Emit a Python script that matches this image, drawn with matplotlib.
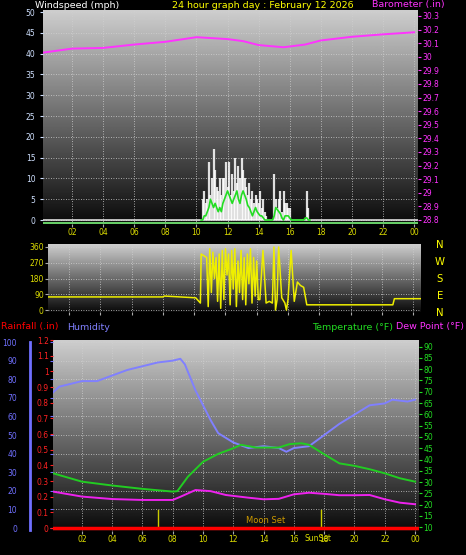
import numpy as np
import matplotlib
matplotlib.use("Agg")
import matplotlib.pyplot as plt

W, H = 466, 555
# ---------------- data ----------------
wind_hours = [round(10.3 + 0.1 * i, 1) for i in range(71)]
gust = [0, 5, 7, 4, 5, 14, 6, 10, 17, 12, 8, 7, 10, 6, 10, 10, 14, 8, 14, 6, 11,
        7, 15, 9, 13, 10, 15, 12, 10, 8, 6, 9, 5, 7, 4, 6, 5, 4, 7, 3, 5, 2, 1, 0, 0,
        0, 0, 11, 5, 3, 5, 7, 2, 7, 4, 4, 3, 3, 0, 0, 0, 0, 0, 0, 0, 0, 0, 0, 7, 3, 0]
avg = [0, 0, 1, 1, 2, 3, 5, 4, 3, 4, 3, 2, 3, 2, 4, 5, 6, 7, 6, 5, 4,
       5, 6, 7, 5, 4, 6, 7, 6, 5, 3.5, 3, 2, 1, 2, 3, 2, 1.5, 1, 1, 0.5, 0, 0, 0, 0,
       0, 0, 1, 3, 2.5, 2, 1.5, 0.5, 0, 1, 1, 1, 0.5, 0, 0, 0, 0, 0, 0, 0, 0, 0, 0.5, 0.5, 0, 0]
baro_hours = [0.1, 2, 4, 6, 8, 10, 12, 13, 14, 15.6, 17, 18, 20, 22, 24]
baro = [30.03, 30.06, 30.065, 30.09, 30.11, 30.144, 30.13, 30.115, 30.086, 30.07, 30.09,
        30.12, 30.147, 30.165, 30.18]

dir_hours = [0.7, 8.0, 8.1, 10.1, 10.4, 10.45, 10.8, 10.9, 11.0, 11.1, 11.2, 11.3, 11.4, 11.5,
             11.6, 11.7, 11.8, 11.9, 12.0, 12.1, 12.2, 12.3, 12.4, 12.5, 12.6, 12.7, 12.8,
             12.9, 13.0, 13.1, 13.2, 13.3, 13.4, 13.5, 13.6, 13.7, 13.8, 13.9, 14.0, 14.1,
             14.2, 14.4, 14.6, 14.8, 15.0, 15.1, 15.2, 15.3, 15.4, 15.6, 15.8, 15.9, 16.0,
             16.2, 16.4, 16.6, 16.8, 17.0, 17.2, 17.4, 22.7, 22.8, 24.5]
direction = [75, 75, 80, 70, 40, 320, 300, 20, 350, 100, 330, 180, 300, 50, 320, 10, 340,
             60, 350, 200, 320, 30, 340, 120, 350, 20, 280, 100, 340, 60, 300, 30, 320, 150,
             350, 40, 300, 80, 280, 60, 60, 340, 40, 50, 40, 360, 0, 60, 360, 70, 40, 0, 60,
             340, 50, 160, 140, 130, 30, 30, 30, 65, 65]

hum_hours = [0.1, 0.5, 2, 3, 4, 5, 6, 7, 8, 8.5, 8.8, 9.5, 10, 10.5, 11, 12, 13, 14, 15, 15.5,
             16, 17, 18, 19, 20, 21, 22, 22.5, 23.5, 24]
humidity = [73, 76, 79, 79, 82, 85, 87, 89, 90, 91, 88, 74, 66, 58, 51, 46, 43, 44, 43, 41,
            43, 44, 50, 56, 61, 66, 67, 69, 68, 69]
temp_hours = [0.1, 2, 4, 6, 8, 8.3, 9, 10, 11, 12, 12.5, 13.5, 15, 15.7, 16.5, 17, 18, 19, 20,
              21, 22, 23, 24]
temperature = [33.9, 30.2, 28.5, 27, 25.8, 26, 32.4, 39, 42.5, 45, 46.5, 45.3, 45.3, 46.8,
               47.2, 46.5, 42.3, 38.3, 37.2, 35.7, 33.9, 31.7, 30.2]
dew_hours = [0.1, 2, 4, 6, 8, 8.5, 9.5, 10.5, 11.5, 13, 14, 15, 16, 17, 18, 19, 20, 21, 22, 23, 24]
dewpoint = [25.8, 23.6, 22.5, 22.1, 22.1, 23.5, 26.5, 26, 24.3, 23.1, 22.4, 22.6, 24.6, 25.3,
            24.8, 24.2, 24.2, 24.3, 22.4, 20.9, 20.2]
rain_hours = [0.1, 24.2]
rain = [0, 0]

fig = plt.figure(figsize=(W / 100, H / 100), dpi=100, facecolor="black")


def add(l, t, r, b):
    return fig.add_axes([l / W, 1 - b / H, (r - l) / W, (b - t) / H])


grad = np.linspace(0, 1, 256).reshape(-1, 1)


def background(ax):
    ax.imshow(grad, cmap="gray", vmin=-0.05, vmax=1.25, aspect="auto",
              extent=[0, 1, 0, 1], transform=ax.transAxes, origin="lower", zorder=0)
    ax.grid(True, color="#d0d0d0", linestyle=(0, (1, 2)), linewidth=0.6, zorder=1)
    for s in ax.spines.values():
        s.set_visible(False)
    ax.tick_params(length=2, color="#aaaaaa", labelsize=5.5)


fs = 6.8
xt = list(range(2, 25, 2))
xl = ["%02d" % (h % 24) for h in xt]

# ---------- panel 1 ----------
ax1 = add(43, 10, 418, 224)
background(ax1)
ax1.set_xlim(0.13, 24.25)
ax1.set_ylim(-0.96, 50.5)
ax1.vlines(wind_hours, 0, gust, color="white", linewidth=1.6, alpha=0.85, zorder=3)
ax1.plot(wind_hours, avg, color="#22dd22", linewidth=1.2, zorder=4)
ax1.axhline(0, color="#dddddd", linewidth=1.2, zorder=2)
ax1.axhline(-0.7, color="#66cc66", linewidth=1.5, zorder=2)
ax1.set_yticks(range(0, 51, 5))
ax1.tick_params(axis="y", colors="#cfe0ff", labelcolor="#cfe0ff")
ax1.set_xticks(xt)
ax1.set_xticklabels(xl)
ax1.tick_params(axis="x", labelcolor="#dddd00", pad=1)
b1 = ax1.twinx()
b1.set_ylim(28.77, 30.344)
b1.plot(baro_hours, baro, color="#ff33ff", linewidth=1.4, zorder=5)
b1.set_yticks(np.round(np.arange(28.8, 30.31, 0.1), 1))
b1.set_yticklabels(["%g" % v for v in np.round(np.arange(28.8, 30.31, 0.1), 1)])
b1.tick_params(axis="y", colors="#ff33ff", labelsize=5.5, length=2, pad=1)
for s in b1.spines.values():
    s.set_visible(False)

fig.text(35 / W, 1 - 5 / H, "Windspeed (mph)", color="white", fontsize=fs, va="center")
fig.text(172 / W, 1 - 5 / H, "24 hour graph day : February 12 2026", color="#ffff00", fontsize=fs, va="center")
fig.text(372 / W, 1 - 5 / H, "Barometer (.in)", color="#ff33ff", fontsize=fs, va="center")

# ---------- panel 2 ----------
ax2 = add(48, 244, 421, 312)
background(ax2)
ax2.set_xlim(0.66, 24.5)
ax2.set_ylim(-11, 377)
ax2.plot(dir_hours, direction, color="#eeee00", linewidth=1.1, zorder=3)
ax2.set_yticks([0, 90, 180, 270, 360])
ax2.tick_params(axis="y", labelcolor="#dddd00", labelsize=5.5, pad=1)
ax2.set_xticks(xt)
ax2.set_xticklabels([])
for i, lab in enumerate(["N", "W", "S", "E", "N"]):
    fig.text(440 / W, 1 - (245 + i * 17) / H, lab, color="#ffff00", fontsize=fs + 0.5, ha="center", va="center")

# ---------- panel 3 ----------
ax3 = add(53, 340, 419, 531)
background(ax3)
ax3.set_xlim(0.09, 24.26)
ax3.set_ylim(-1.6, 101.1)
ax3.plot(hum_hours, humidity, color="#8080ff", linewidth=1.4, zorder=3)
ax3.set_yticks(range(0, 101, 10))
ax3.tick_params(axis="y", labelcolor="#7070ff", colors="#7070ff", pad=24, labelsize=5.5)
ax3.set_xticks(xt)
ax3.set_xticklabels(xl)
ax3.tick_params(axis="x", labelcolor="#dddd00", pad=1)
for hx in [7.05, 17.8]:
    ax3.axvline(hx, ymin=0.015, ymax=0.11, color="#cccc00", linewidth=1, zorder=4)
ax3.text(14.1, 1.5, "Moon Set", color="#cc9900", fontsize=6, ha="center", va="bottom", zorder=6)
ax3.text(17.6, -3.3, "SunSet", color="#dddd00", fontsize=5.5, ha="center", va="top", zorder=6)

r3 = ax3.twinx()
r3.yaxis.set_ticks_position("left")
r3.yaxis.set_label_position("left")
r3.set_ylim(-0.019, 1.2)
r3.plot(rain_hours, rain, color="#ff0000", linewidth=2.5, zorder=5)
r3.set_yticks(np.round(np.arange(0, 1.21, 0.1), 1))
r3.set_yticklabels(["%g" % v for v in np.round(np.arange(0, 1.21, 0.1), 1)])
r3.tick_params(axis="y", colors="#ff2222", labelsize=5.5, length=2, pad=1)
for s in r3.spines.values():
    s.set_visible(False)

t3 = ax3.twinx()
t3.set_ylim(8.36, 92.9)
t3.plot(temp_hours, temperature, color="#22cc22", linewidth=1.4, zorder=5)
t3.plot(dew_hours, dewpoint, color="#ee22ee", linewidth=1.4, zorder=5)
t3.set_yticks(range(10, 91, 5))
t3.tick_params(axis="y", colors="#22dd22", labelsize=5.5, length=2, pad=1)
for s in t3.spines.values():
    s.set_visible(False)

fig.add_artist(plt.Line2D([30 / W, 30 / W], [1 - 342 / H, 1 - 530 / H], color="#7070ff", linewidth=2))
fig.text(1 / W, 1 - 327 / H, "Rainfall (.in)", color="#ff0000", fontsize=fs, va="center")
fig.text(67 / W, 1 - 327 / H, "Humidity", color="#8080ff", fontsize=fs, va="center")
fig.text(312 / W, 1 - 327 / H, "Temperature (°F)", color="#22dd22", fontsize=fs, va="center")
fig.text(464 / W, 1 - 327 / H, "Dew Point (°F)", color="#ff33ff", fontsize=fs, va="center", ha="right")

fig.savefig("out.png", dpi=100, facecolor="black")
